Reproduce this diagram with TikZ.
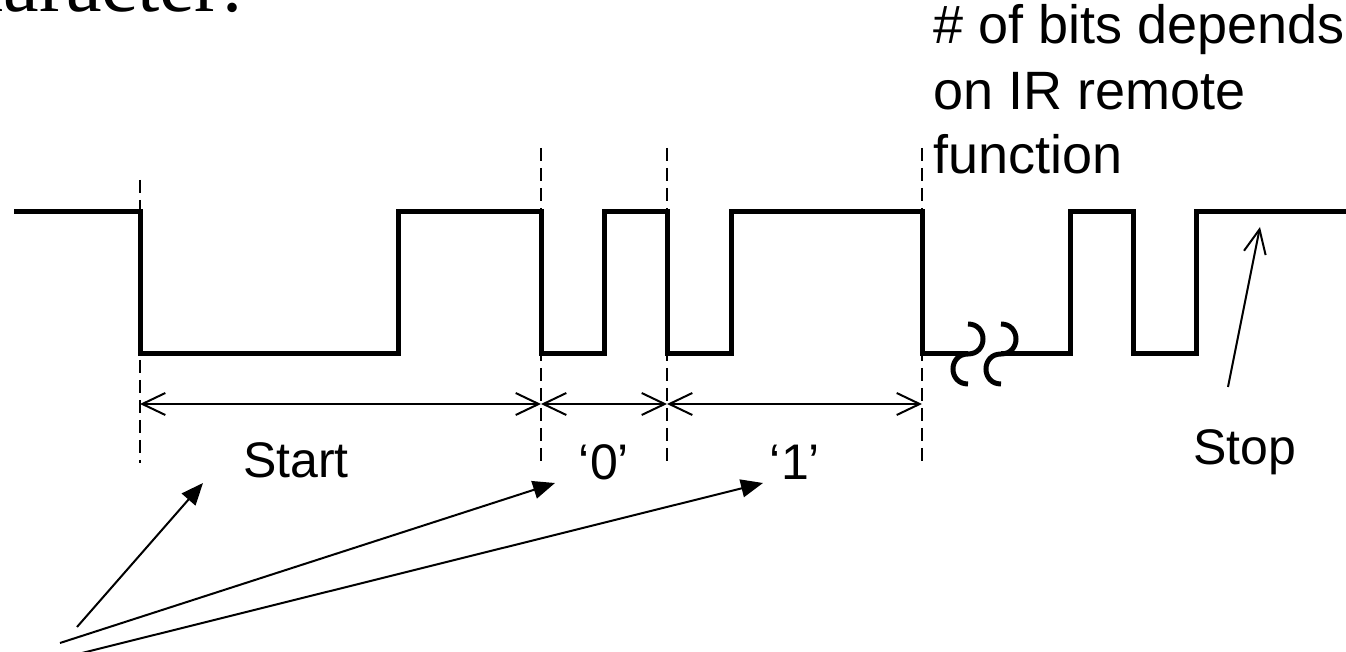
\documentclass[tikz,border=0pt]{standalone}
\usepackage{fontspec}
\setmainfont{Liberation Sans}
\newfontfamily\hdrserif{Liberation Serif}
\usetikzlibrary{arrows.meta}
\begin{document}
\begin{tikzpicture}[x=0.5pt,y=-0.5pt,
  sig/.style={line width=2.5pt, line join=miter},
  guide/.style={line width=1pt, dash pattern=on 6.5pt off 3.5pt},
  dim/.style={line width=1pt, {Straight Barb[length=11.5pt,width=11pt]}-{Straight Barb[length=11.5pt,width=11pt]}},
  ptr/.style={line width=1pt, -{Triangle[length=11pt,width=9pt]}},
  stoparr/.style={line width=1pt, -{Straight Barb[length=12pt,width=11pt]}},
  lbl/.style={font=\fontsize{25}{30}\selectfont, inner sep=0pt, anchor=base},
  note/.style={font=\fontsize{27}{32}\selectfont, inner sep=0pt, anchor=base west},
]
\useasboundingbox (0,0) rectangle (1346,652);
\clip (0,0) rectangle (1346,652);

% partially visible heading (only the lower edge of the glyphs shows)
\coordinate (hdrbase) at (244,12);
\node[anchor=base east, inner sep=0pt, font=\hdrserif\fontsize{40}{48}\selectfont] (hdr) at (hdrbase) {character:};

% signal
\draw[sig] (14,212) -- (140,212) -- (140,354) -- (398,354) -- (398,212) -- (541,212)
  -- (541,354) -- (604,354) -- (604,212) -- (667,212) -- (667,354) -- (731,354)
  -- (731,212) -- (922,212) -- (922,354) -- (968,354);
\draw[sig] (968,324) .. controls (988,324) and (988,354) .. (968,354)
  .. controls (948,354) and (948,384) .. (968,384);
\draw[sig] (1001,324) .. controls (1021,324) and (1021,354) .. (1001,354)
  .. controls (981,354) and (981,384) .. (1001,384);
\draw[sig] (1001,354) -- (1070,354) -- (1070,212) -- (1133,212) -- (1133,354)
  -- (1196,354) -- (1196,212) -- (1346,212);

% guide lines
\coordinate (g1t) at (140,180); \coordinate (g1b) at (140,463);
\coordinate (g2t) at (541,148); \coordinate (g2b) at (541,468);
\coordinate (g3t) at (667,148); \coordinate (g3b) at (667,465);
\coordinate (g4t) at (922,148); \coordinate (g4b) at (922,465);
\draw[guide] (g1t) -- (g1b);
\draw[guide] (g2t) -- (g2b);
\draw[guide] (g3t) -- (g3b);
\draw[guide] (g4t) -- (g4b);

% dimension arrows
\coordinate (d1) at (140,404); \coordinate (d2) at (541,404);
\coordinate (d3) at (667,404); \coordinate (d4) at (922,404);
\draw[dim] (d1) -- (d2);
\draw[dim] (d2) -- (d3);
\draw[dim] (d3) -- (d4);

% labels
\node[lbl] (start) at (296,478) {Start};
\node[lbl] (zero) at (604,480) {‘0’};
\node[lbl] (one) at (795,480) {‘1’};
\node[lbl] (stop) at (1245,465) {Stop};

\node[note] (n1) at (933,44) {\# of bits depends};
\node[note] (n2) at (933,110) {on IR remote};
\node[note] (n3) at (933,174) {function};

% pointers
\coordinate (s1) at (77,627); \coordinate (t1) at (203,483);
\coordinate (s2) at (60,643); \coordinate (t2) at (555,483);
\coordinate (s3) at (70,656); \coordinate (t3) at (763,483);
\draw[ptr] (s1) -- (t1);
\draw[ptr] (s2) -- (t2);
\draw[ptr] (s3) -- (t3);

\coordinate (s4) at (1228,387); \coordinate (t4) at (1260,227);
\draw[stoparr] (s4) -- (t4);
\end{tikzpicture}
\end{document}
